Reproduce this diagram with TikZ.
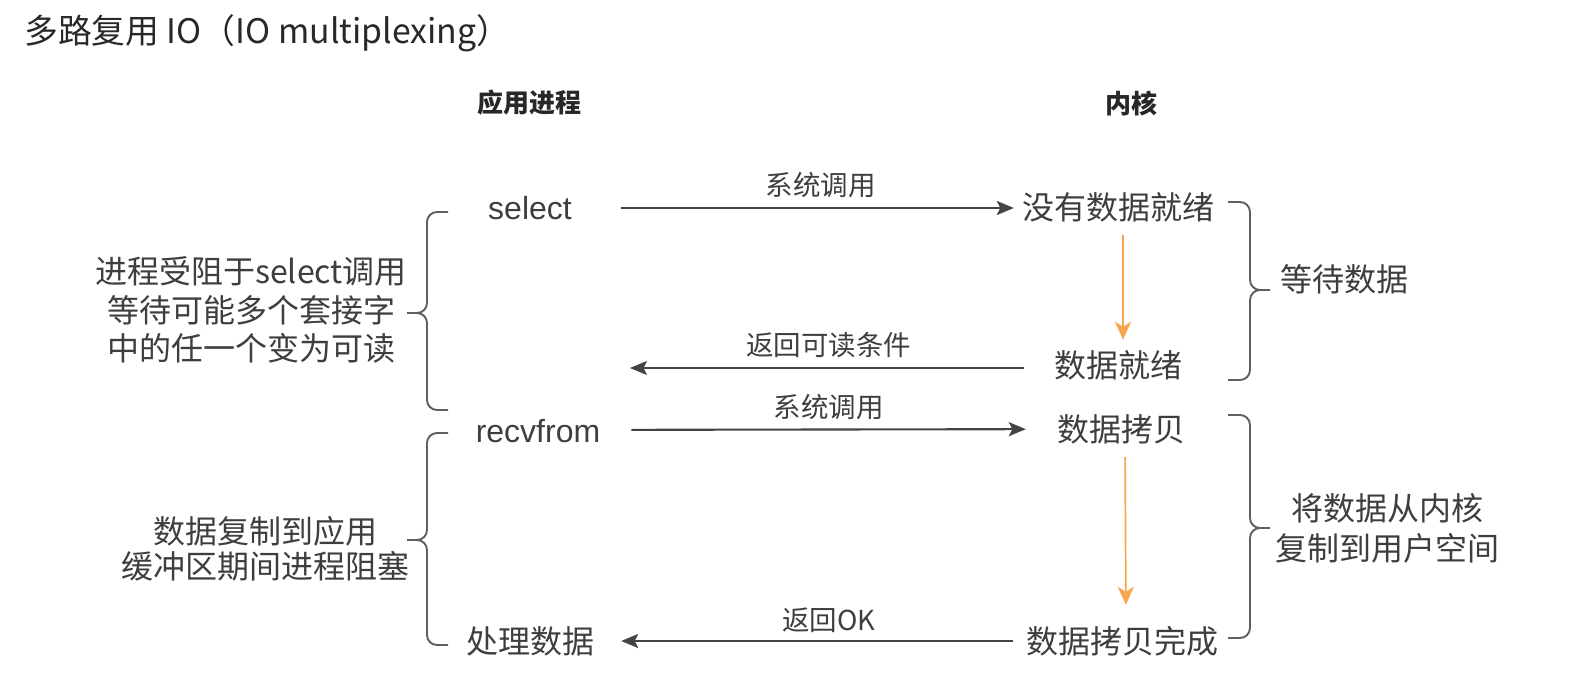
\documentclass[tikz,border=0pt]{standalone}
\usepackage{fontspec}
\setmainfont{Noto Sans CJK SC}
\newfontfamily\arialfont{Liberation Sans}
\usetikzlibrary{arrows.meta}
\definecolor{txtgrey}{RGB}{62,62,62}
\definecolor{titlegrey}{RGB}{40,40,40}
\definecolor{linegrey}{RGB}{68,68,68}
\definecolor{bracegrey}{RGB}{95,95,95}
\definecolor{floworange}{RGB}{247,166,78}
\tikzset{
  lbl/.style    = {inner sep=0pt, text=txtgrey, font=\fontsize{32}{38}\selectfont,
                   text height=27pt, text depth=3pt},
  multi/.style  = {inner sep=0pt, text=txtgrey, align=center},
  elbl/.style   = {inner sep=0pt, text=txtgrey, font=\fontsize{27.5}{32}\selectfont,
                   text height=23pt, text depth=2pt},
  hdr/.style    = {inner sep=0pt, text=titlegrey, font=\fontsize{26}{31}\selectfont\bfseries},
  call/.style   = {-{Stealth[length=17pt,width=14pt,inset=3.5pt]}, line width=2.1pt, draw=linegrey},
  flow/.style   = {-{Stealth[length=18pt,width=16pt,inset=5pt]}, line width=1.7pt, draw=floworange},
  curly/.style  = {draw=bracegrey, line width=1.9pt, rounded corners=10pt},
}
% end x, stem x, tip x, top y, tip y, bottom y
\newcommand{\curlybrace}[6]{%
  \draw[curly] (#1,#4) -- (#2,#4) -- (#2,#5) -- (#3,#5)
               (#1,#6) -- (#2,#6) -- (#2,#5) -- (#3,#5);}

\begin{document}
\begin{tikzpicture}[x=1pt, y=-1pt]
\useasboundingbox (0,0) rectangle (1573,684);

% Title
\node[anchor=west, inner sep=0pt, text=titlegrey, font=\fontsize{33.8}{40}\selectfont] (title) at (24,33)
  {多路复用 IO（IO multiplexing）};

% Column heads
\node[hdr] (happ) at (529,103) {应用进程};
\node[hdr] (hkern) at (1131,103) {内核};

% Application side
\node[lbl, font=\fontsize{32}{38}\arialfont] (sel) at (530,208) {select};
\node[lbl, font=\fontsize{32}{38}\arialfont] (recv) at (538,430) {recvfrom};
\node[lbl] (proc) at (530,641) {处理数据};
\coordinate (selback) at (630,368);

% Kernel side
\node[lbl] (nodata) at (1118,208) {没有数据就绪};
\node[lbl] (ready) at (1118,365) {数据就绪};
\node[lbl] (copy) at (1121,429) {数据拷贝};
\node[lbl] (done) at (1122,641) {数据拷贝完成};

% Calls and returns
\draw[call, shorten <=49pt, shorten >=8pt] (sel) -- (nodata)
  node[elbl, midway, above=9pt, xshift=24pt] (sys1) {系统调用};
\draw[call, shorten <=30pt] (ready.west |- selback) -- (selback)
  node[elbl, midway, above=9pt, xshift=-13pt] (ret1) {返回可读条件};
\draw[call, shorten <=31pt, shorten >=31pt] (recv) -- (copy)
  node[elbl, midway, above=9pt] (sys2) {系统调用};
\draw[call, shorten <=13pt, shorten >=27pt] (done) -- (proc)
  node[elbl, midway, above=7pt, xshift=19pt] (ret2) {返回OK};

% Kernel progress
\draw[flow, shorten <=12pt, shorten >=10pt] ([xshift=5pt]nodata.south) -- ([xshift=5pt]ready.north);
\draw[flow, shorten <=13pt, shorten >=21pt] ([xshift=4pt]copy.south) -- ([xshift=4pt]done.north);

% Braces
\curlybrace{448}{427}{407}{212}{313}{410}
\curlybrace{448}{427}{407}{433}{540}{645}
\curlybrace{1228}{1250}{1270}{202}{290}{380}
\curlybrace{1228}{1250}{1270}{415}{528}{638}

% Brace notes
\node[multi, font=\fontsize{32}{38.5}\selectfont] (blksel) at (251,310)
  {进程受阻于select调用\\等待可能多个套接字\\中的任一个变为可读};
\node[multi, font=\fontsize{32}{35}\selectfont] (blkcopy) at (265,549)
  {数据复制到应用\\缓冲区期间进程阻塞};
\node[lbl] (wait) at (1344,280) {等待数据};
\node[multi, font=\fontsize{32}{40}\selectfont] (tocopy) at (1387,528)
  {将数据从内核\\复制到用户空间};

\end{tikzpicture}
\end{document}
